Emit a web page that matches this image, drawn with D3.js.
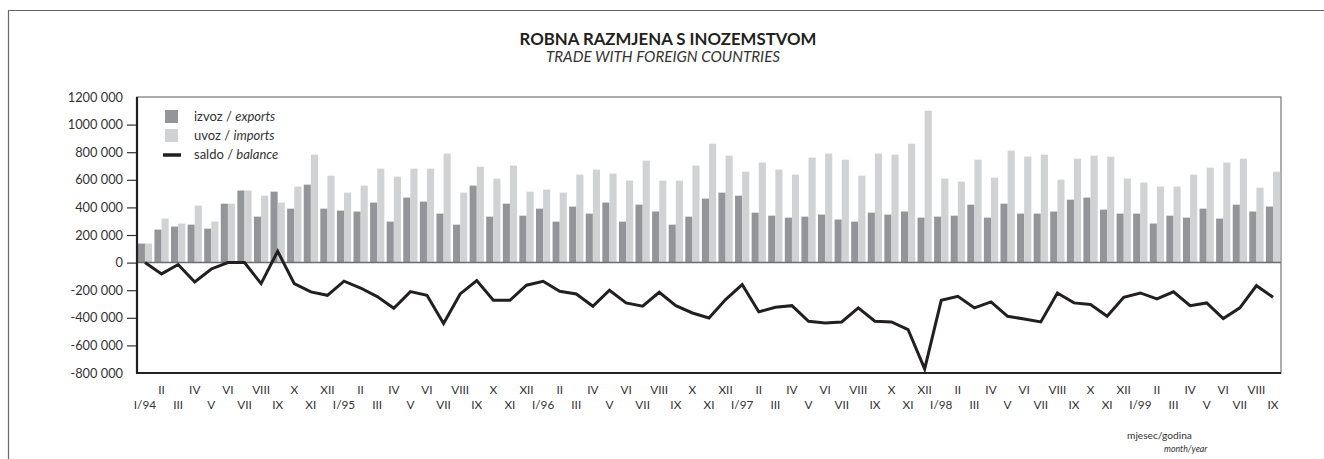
<!DOCTYPE html>
<html>
<head>
<meta charset="utf-8">
<script src="https://cdn.jsdelivr.net/npm/d3@7"></script>
<style>
body { margin: 0; background: #fff; }
svg { font-family: Lato, "Open Sans", sans-serif; }
</style>
</head>
<body>
<svg class="chart"></svg>
<script>
var months = ["I/94","II","III","IV","V","VI","VII","VIII","IX","X","XI","XII",
	"I/95","II","III","IV","V","VI","VII","VIII","IX","X","XI","XII",
	"I/96","II","III","IV","V","VI","VII","VIII","IX","X","XI","XII",
	"I/97","II","III","IV","V","VI","VII","VIII","IX","X","XI","XII",
	"I/98","II","III","IV","V","VI","VII","VIII","IX","X","XI","XII",
	"I/99","II","III","IV","V","VI","VII","VIII","IX"];

var exports = [138000,239000,261000,275000,246000,427000,522000,333000,514000,391000,565000,391000,
	377000,370000,435000,297000,471000,442000,355000,275000,558000,333000,427000,340000,
	391000,297000,406000,355000,435000,297000,420000,370000,275000,333000,464000,507000,
	485000,362000,340000,326000,333000,348000,312000,297000,362000,348000,370000,326000,
	333000,340000,420000,326000,427000,355000,355000,370000,456000,471000,384000,355000,
	355000,283000,340000,326000,391000,319000,420000,370000,406000];

var imports = [138000,319000,283000,413000,297000,427000,522000,485000,435000,551000,782000,630000,
	507000,558000,681000,623000,681000,681000,790000,507000,695000,608000,703000,514000,
	529000,507000,638000,674000,645000,594000,739000,594000,594000,703000,862000,775000,
	659000,725000,674000,638000,761000,790000,746000,630000,790000,782000,862000,1101000,
	609000,587000,746000,616000,811000,768000,782000,601000,753000,775000,768000,609000,
	580000,551000,551000,638000,688000,725000,753000,543000,659000];

var balance = [0,-82000,-14000,-140000,-46000,0,0,-152000,82000,-152000,-212000,-237000,
	-135000,-184000,-246000,-331000,-210000,-237000,-442000,-227000,-130000,-273000,-273000,-164000,
	-135000,-208000,-227000,-316000,-200000,-292000,-316000,-215000,-312000,-365000,-401000,-268000,
	-159000,-357000,-324000,-312000,-425000,-437000,-430000,-328000,-425000,-430000,-485000,-770000,
	-273000,-244000,-328000,-285000,-389000,-408000,-430000,-220000,-292000,-304000,-389000,-251000,
	-220000,-263000,-212000,-312000,-292000,-406000,-328000,-167000,-251000];

var yTicks = [-800000,-600000,-400000,-200000,0,200000,400000,600000,800000,1000000,1200000];

var margin = {top: 97, left: 137};
var width = 1144;
var height = 276;

var svg = d3.select(".chart")
	.attr("width", 1324)
	.attr("height", 459);

// outer frame (open on right and bottom)
svg.append("path")
	.attr("d", "M8.5,459V10.5H1324")
	.attr("fill", "none")
	.attr("stroke", "#666")
	.attr("stroke-width", 1.2);

svg.append("text")
	.attr("x", 668).attr("y", 45)
	.attr("text-anchor", "middle")
	.attr("font-size", 16.8)
	.attr("font-weight", "bold")
	.attr("fill", "#231f20")
	.text("ROBNA RAZMJENA S INOZEMSTVOM");

svg.append("text")
	.attr("x", 663).attr("y", 62)
	.attr("text-anchor", "middle")
	.attr("font-size", 15.2)
	.attr("font-style", "italic")
	.attr("fill", "#333")
	.text("TRADE WITH FOREIGN COUNTRIES");

var chart = svg.append("g")
	.attr("transform", "translate(" + margin.left + "," + margin.top + ")");

var x = d3.scaleBand()
	.domain(d3.range(months.length))
	.range([0, width])
	.paddingInner(0.14)
	.paddingOuter(0.05);

var x1 = d3.scaleBand()
	.domain(["exports", "imports"])
	.range([0, x.bandwidth()]);

var y = d3.scaleLinear()
	.domain([-800000, 1200000])
	.range([height, 0]);

function fmt(v) {
	if (v == 0) return "0";
	var s = String(Math.abs(v));
	return (v < 0 ? "-" : "") + s.slice(0, -3) + " " + s.slice(-3);
}

// y axis labels and ticks
var yAxis = d3.axisLeft(y)
	.tickValues(yTicks)
	.tickSize(10)
	.tickPadding(4)
	.tickFormat(fmt);

var ya = chart.append("g")
	.attr("class", "y axis")
	.call(yAxis);
ya.select(".domain").remove();
ya.selectAll("text")
	.attr("font-size", 12.8)
	.attr("fill", "#333")
	.attr("font-family", "Lato, sans-serif");
ya.selectAll("line")
	.attr("stroke", "#333")
	.attr("stroke-width", 1.2)
	.attr("stroke-opacity", d => (d == 1200000 || d == -800000) ? 0 : 1);

// plot frame
chart.append("rect")
	.attr("width", width)
	.attr("height", height)
	.attr("fill", "none")
	.attr("stroke", "#777")
	.attr("stroke-width", 1.2);

// bars
var groups = chart.selectAll(".month")
	.data(months.map((m, i) => i))
	.enter()
	.append("g")
	.attr("transform", i => "translate(" + x(i) + ",0)");

groups.append("rect")
	.attr("x", x1("exports"))
	.attr("width", x1.bandwidth())
	.attr("y", i => y(Math.max(0, exports[i])))
	.attr("height", i => Math.abs(y(exports[i]) - y(0)))
	.attr("fill", "#939598");

groups.append("rect")
	.attr("x", x1("imports"))
	.attr("width", x1.bandwidth())
	.attr("y", i => y(Math.max(0, imports[i])))
	.attr("height", i => Math.abs(y(imports[i]) - y(0)))
	.attr("fill", "#d1d2d4");

// zero line
chart.append("line")
	.attr("x1", 0).attr("x2", width)
	.attr("y1", y(0)).attr("y2", y(0))
	.attr("stroke", "#6d6e71")
	.attr("stroke-width", 1.5);

// balance line
var line = d3.line()
	.x((d, i) => x(i) + x.bandwidth() / 2)
	.y(d => y(d));

chart.append("path")
	.datum(balance)
	.attr("d", line)
	.attr("fill", "none")
	.attr("stroke", "#231f20")
	.attr("stroke-width", 3)
	.attr("stroke-linejoin", "miter");

// left and bottom axis lines (heavier)
chart.append("path")
	.attr("d", "M0,0V" + height + "H" + width)
	.attr("fill", "none")
	.attr("stroke", "#231f20")
	.attr("stroke-width", 2.2);

// month labels, two rows
chart.selectAll(".mlabel")
	.data(months)
	.enter()
	.append("text")
	.attr("x", (d, i) => x(i) + x.bandwidth() / 2)
	.attr("y", (d, i) => i % 2 == 0 ? height + 36 : height + 21)
	.attr("text-anchor", "middle")
	.attr("font-size", 11.8)
	.attr("fill", "#333")
	.text(d => d);

// legend
var legend = chart.append("g").attr("transform", "translate(28,13)");
legend.append("rect").attr("width", 13).attr("height", 13).attr("fill", "#939598");
legend.append("rect").attr("y", 19).attr("width", 13).attr("height", 13).attr("fill", "#d1d2d4");
legend.append("line").attr("x1", -2).attr("x2", 16).attr("y1", 45).attr("y2", 45)
	.attr("stroke", "#231f20").attr("stroke-width", 3.5);

var ltext = [["izvoz / ", "exports", 11], ["uvoz / ", "imports", 30], ["saldo / ", "balance", 49]];
ltext.forEach(function(t) {
	var tx = legend.append("text")
		.attr("x", 29).attr("y", t[2])
		.attr("font-size", 13)
		.attr("fill", "#333");
	tx.append("tspan").text(t[0]);
	tx.append("tspan").attr("font-style", "italic").text(t[1]);
});

// axis title
svg.append("text")
	.attr("x", 1127).attr("y", 439)
	.attr("font-size", 10.2)
	.attr("fill", "#333")
	.text("mjesec/godina");
svg.append("text")
	.attr("x", 1164).attr("y", 452)
	.attr("font-size", 8.8)
	.attr("font-style", "italic")
	.attr("fill", "#333")
	.text("month/year");
</script>
</body>
</html>
